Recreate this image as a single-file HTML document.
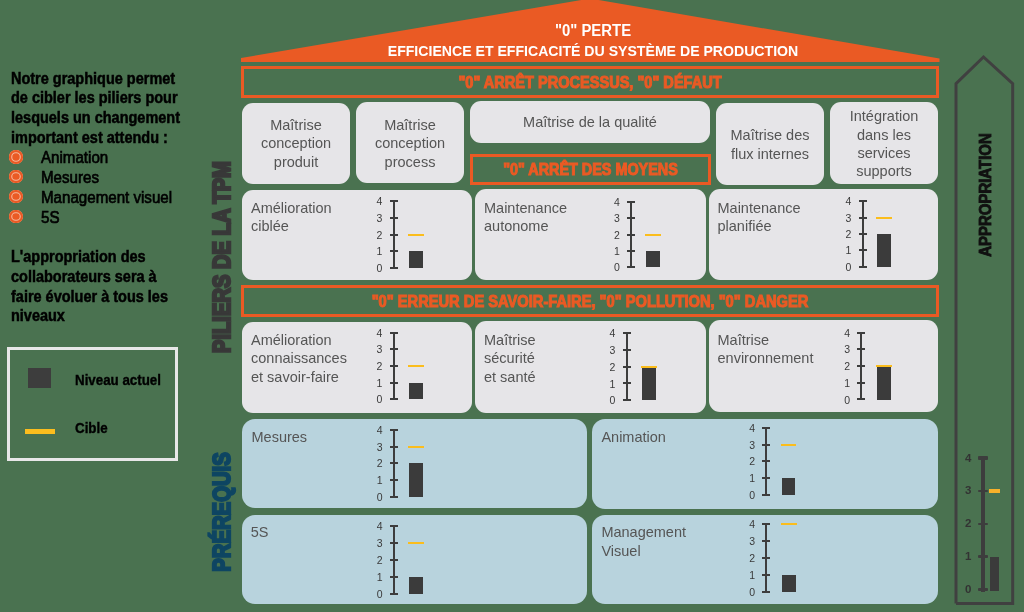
<!DOCTYPE html>
<html><head><meta charset="utf-8"><title>TPM</title><style>
#w{position:absolute;left:0;top:0;width:1024px;height:612px;will-change:transform}
*{margin:0;padding:0;box-sizing:content-box}
html,body{width:1024px;height:612px;overflow:hidden;background:#4a7250}
body{position:relative;font-family:"Liberation Sans",sans-serif}
.abs,.bx,.band,.bt,.tl,.r,.num,.num2,.roof,.vt,.lt,.lt2,.lt3,.bul{position:absolute}
.band{border:3px solid #ea5a24}
.bt{text-align:center;color:#ea5a24;font-weight:bold;line-height:20px;white-space:nowrap;-webkit-text-stroke:1.1px #ea5a24}
.tl{white-space:nowrap;line-height:1}
.num{width:25px;text-align:center;font-size:10.5px;line-height:14px;color:#3a3a3a}
.num2{width:12px;text-align:center;font-size:11.5px;line-height:15px;color:#333;font-weight:bold}
.roof{left:290px;width:606px;text-align:center;color:#fff;font-weight:bold;font-size:14.2px;line-height:1;white-space:nowrap}
.roof1{font-size:14.8px}
.vt{text-align:center;font-weight:bold;line-height:1;white-space:nowrap}
.lt{font-size:16px;font-weight:bold;color:#000;line-height:1;white-space:nowrap;-webkit-text-stroke:0.5px #000;transform:scaleX(0.905);transform-origin:0 0}
.lt2{font-size:16px;color:#000;line-height:1;white-space:nowrap;-webkit-text-stroke:0.65px #000;transform:scaleX(0.945);transform-origin:0 0}
.lt3{font-size:15.5px;font-weight:bold;color:#000;line-height:1;white-space:nowrap;-webkit-text-stroke:0.4px #000;transform:scaleX(0.86);transform-origin:0 0}
.bul{width:13.6px;height:13.6px;border-radius:50%;background:#ea5a24;box-shadow:inset 0 0 0 2.2px #ea5a24,inset 0 0 0 3.3px #f5b69b}
</style></head>
<body><div id="w">
<svg class="abs" width="1024" height="612" style="left:0;top:0"><polygon points="241,62 241,58 590,-1.5 939.5,58.6 939.5,62" fill="#ea5a24"/><polyline points="956,603.4 956,83.7 983.5,57 1012.7,83.7 1012.7,603.4 956,603.4" fill="none" stroke="#404040" stroke-width="3" stroke-linejoin="miter"/></svg>
<div class="roof" style="top:22.7px;font-size:16px;transform:scaleX(0.93)">"0" PERTE</div>
<div class="roof" style="top:43.1px;font-size:15px;transform:scaleX(0.94)">EFFICIENCE ET EFFICACITÉ DU SYSTÈME DE PRODUCTION</div>
<div class="band" style="left:241px;top:66px;width:692px;height:26px"></div>
<div class="bt" style="left:241px;width:698px;top:72.15px;font-size:16.5px;transform:scaleX(0.882)">"0" ARRÊT PROCESSUS, "0" DÉFAUT</div>
<div class="band" style="left:470px;top:154px;width:235px;height:25px"></div>
<div class="bt" style="left:470px;width:241px;top:158.65px;font-size:16.5px;transform:scaleX(0.872)">"0" ARRÊT DES MOYENS</div>
<div class="band" style="left:241px;top:285px;width:692px;height:26px"></div>
<div class="bt" style="left:241px;width:698px;top:291.45px;font-size:16.5px;transform:scaleX(0.889)">"0" ERREUR DE SAVOIR-FAIRE, "0" POLLUTION, "0" DANGER</div>
<div class="bx" style="left:242px;top:103px;width:108px;height:81px;background:#e6e5e8;border-radius:11px"></div>
<div class="tl" style="left:146px;width:300px;text-align:center;top:118.2px;font-size:14.5px;color:#555555;font-weight:normal">Maîtrise</div>
<div class="tl" style="left:146px;width:300px;text-align:center;top:136.4px;font-size:14.5px;color:#555555;font-weight:normal">conception</div>
<div class="tl" style="left:146px;width:300px;text-align:center;top:154.6px;font-size:14.5px;color:#555555;font-weight:normal">produit</div>
<div class="bx" style="left:356px;top:102px;width:108px;height:81px;background:#e6e5e8;border-radius:11px"></div>
<div class="tl" style="left:260px;width:300px;text-align:center;top:118.2px;font-size:14.5px;color:#555555;font-weight:normal">Maîtrise</div>
<div class="tl" style="left:260px;width:300px;text-align:center;top:136.4px;font-size:14.5px;color:#555555;font-weight:normal">conception</div>
<div class="tl" style="left:260px;width:300px;text-align:center;top:154.6px;font-size:14.5px;color:#555555;font-weight:normal">process</div>
<div class="bx" style="left:470px;top:101px;width:240px;height:42px;background:#e6e5e8;border-radius:11px"></div>
<div class="tl" style="left:440px;width:300px;text-align:center;top:114.9px;font-size:14.5px;color:#555555;font-weight:normal">Maîtrise de la qualité</div>
<div class="bx" style="left:716px;top:103px;width:108px;height:82px;background:#e6e5e8;border-radius:11px"></div>
<div class="tl" style="left:620px;width:300px;text-align:center;top:128.4px;font-size:14.5px;color:#555555;font-weight:normal">Maîtrise des</div>
<div class="tl" style="left:620px;width:300px;text-align:center;top:146.6px;font-size:14.5px;color:#555555;font-weight:normal">flux internes</div>
<div class="bx" style="left:830px;top:102px;width:108px;height:82px;background:#e6e5e8;border-radius:11px"></div>
<div class="tl" style="left:734px;width:300px;text-align:center;top:109.2px;font-size:14.5px;color:#555555;font-weight:normal">Intégration</div>
<div class="tl" style="left:734px;width:300px;text-align:center;top:127.5px;font-size:14.5px;color:#555555;font-weight:normal">dans les</div>
<div class="tl" style="left:734px;width:300px;text-align:center;top:145.8px;font-size:14.5px;color:#555555;font-weight:normal">services</div>
<div class="tl" style="left:734px;width:300px;text-align:center;top:164.1px;font-size:14.5px;color:#555555;font-weight:normal">supports</div>
<div class="bx" style="left:242px;top:190px;width:230px;height:90px;background:#e6e5e8;border-radius:11px"></div>
<div class="tl" style="left:251px;top:200.5px;font-size:14.5px;color:#555555;font-weight:normal">Amélioration</div>
<div class="tl" style="left:251px;top:218.8px;font-size:14.5px;color:#555555;font-weight:normal">ciblée</div>
<div class="r" style="left:393px;top:200px;width:2px;height:69px;background:#3d3d3d"></div>
<div class="r" style="left:390px;top:267px;width:8px;height:2px;background:#3d3d3d"></div>
<div class="num" style="left:367.00px;top:261.00px">0</div>
<div class="r" style="left:390px;top:250px;width:8px;height:2px;background:#3d3d3d"></div>
<div class="num" style="left:367.00px;top:244.25px">1</div>
<div class="r" style="left:390px;top:234px;width:8px;height:2px;background:#3d3d3d"></div>
<div class="num" style="left:367.00px;top:227.50px">2</div>
<div class="r" style="left:390px;top:217px;width:8px;height:2px;background:#3d3d3d"></div>
<div class="num" style="left:367.00px;top:210.75px">3</div>
<div class="r" style="left:390px;top:200px;width:8px;height:2px;background:#3d3d3d"></div>
<div class="num" style="left:367.00px;top:194.00px">4</div>
<div class="r" style="left:409px;top:251px;width:14px;height:17px;background:#3b3b3b"></div>
<div class="r" style="left:408px;top:234px;width:16px;height:2px;background:#fbbd1c"></div>
<div class="bx" style="left:475px;top:189px;width:230.5px;height:91px;background:#e6e5e8;border-radius:11px"></div>
<div class="tl" style="left:484px;top:200.5px;font-size:14.5px;color:#555555;font-weight:normal">Maintenance</div>
<div class="tl" style="left:484px;top:218.8px;font-size:14.5px;color:#555555;font-weight:normal">autonome</div>
<div class="r" style="left:630px;top:201px;width:2px;height:67px;background:#3d3d3d"></div>
<div class="r" style="left:627px;top:266px;width:8px;height:2px;background:#3d3d3d"></div>
<div class="num" style="left:604.50px;top:260.00px">0</div>
<div class="r" style="left:627px;top:250px;width:8px;height:2px;background:#3d3d3d"></div>
<div class="num" style="left:604.50px;top:243.75px">1</div>
<div class="r" style="left:627px;top:234px;width:8px;height:2px;background:#3d3d3d"></div>
<div class="num" style="left:604.50px;top:227.50px">2</div>
<div class="r" style="left:627px;top:217px;width:8px;height:2px;background:#3d3d3d"></div>
<div class="num" style="left:604.50px;top:211.25px">3</div>
<div class="r" style="left:627px;top:201px;width:8px;height:2px;background:#3d3d3d"></div>
<div class="num" style="left:604.50px;top:195.00px">4</div>
<div class="r" style="left:646px;top:251px;width:14px;height:16px;background:#3b3b3b"></div>
<div class="r" style="left:645px;top:234px;width:16px;height:2px;background:#fbbd1c"></div>
<div class="bx" style="left:708.5px;top:189px;width:229.5px;height:91px;background:#e6e5e8;border-radius:11px"></div>
<div class="tl" style="left:717.5px;top:200.5px;font-size:14.5px;color:#555555;font-weight:normal">Maintenance</div>
<div class="tl" style="left:717.5px;top:218.8px;font-size:14.5px;color:#555555;font-weight:normal">planifiée</div>
<div class="r" style="left:862px;top:200px;width:2px;height:68px;background:#3d3d3d"></div>
<div class="r" style="left:859px;top:266px;width:8px;height:2px;background:#3d3d3d"></div>
<div class="num" style="left:835.80px;top:259.70px">0</div>
<div class="r" style="left:859px;top:249px;width:8px;height:2px;background:#3d3d3d"></div>
<div class="num" style="left:835.80px;top:243.32px">1</div>
<div class="r" style="left:859px;top:233px;width:8px;height:2px;background:#3d3d3d"></div>
<div class="num" style="left:835.80px;top:226.95px">2</div>
<div class="r" style="left:859px;top:217px;width:8px;height:2px;background:#3d3d3d"></div>
<div class="num" style="left:835.80px;top:210.57px">3</div>
<div class="r" style="left:859px;top:200px;width:8px;height:2px;background:#3d3d3d"></div>
<div class="num" style="left:835.80px;top:194.20px">4</div>
<div class="r" style="left:877px;top:234px;width:14px;height:33px;background:#3b3b3b"></div>
<div class="r" style="left:876px;top:217px;width:16px;height:2px;background:#fbbd1c"></div>
<div class="bx" style="left:242px;top:321.5px;width:230px;height:91.0px;background:#e6e5e8;border-radius:11px"></div>
<div class="tl" style="left:251px;top:333.1px;font-size:14.5px;color:#555555;font-weight:normal">Amélioration</div>
<div class="tl" style="left:251px;top:351.4px;font-size:14.5px;color:#555555;font-weight:normal">connaissances</div>
<div class="tl" style="left:251px;top:369.7px;font-size:14.5px;color:#555555;font-weight:normal">et savoir-faire</div>
<div class="r" style="left:393px;top:332px;width:2px;height:68px;background:#3d3d3d"></div>
<div class="r" style="left:390px;top:398px;width:8px;height:2px;background:#3d3d3d"></div>
<div class="num" style="left:367.00px;top:392.20px">0</div>
<div class="r" style="left:390px;top:382px;width:8px;height:2px;background:#3d3d3d"></div>
<div class="num" style="left:367.00px;top:375.55px">1</div>
<div class="r" style="left:390px;top:365px;width:8px;height:2px;background:#3d3d3d"></div>
<div class="num" style="left:367.00px;top:358.90px">2</div>
<div class="r" style="left:390px;top:348px;width:8px;height:2px;background:#3d3d3d"></div>
<div class="num" style="left:367.00px;top:342.25px">3</div>
<div class="r" style="left:390px;top:332px;width:8px;height:2px;background:#3d3d3d"></div>
<div class="num" style="left:367.00px;top:325.60px">4</div>
<div class="r" style="left:409px;top:383px;width:14px;height:16px;background:#3b3b3b"></div>
<div class="r" style="left:408px;top:365px;width:16px;height:2px;background:#fbbd1c"></div>
<div class="bx" style="left:475px;top:321px;width:230.5px;height:91.5px;background:#e6e5e8;border-radius:11px"></div>
<div class="tl" style="left:484px;top:333.1px;font-size:14.5px;color:#555555;font-weight:normal">Maîtrise</div>
<div class="tl" style="left:484px;top:351.4px;font-size:14.5px;color:#555555;font-weight:normal">sécurité</div>
<div class="tl" style="left:484px;top:369.7px;font-size:14.5px;color:#555555;font-weight:normal">et santé</div>
<div class="r" style="left:626px;top:332px;width:2px;height:69px;background:#3d3d3d"></div>
<div class="r" style="left:623px;top:399px;width:8px;height:2px;background:#3d3d3d"></div>
<div class="num" style="left:599.90px;top:393.40px">0</div>
<div class="r" style="left:623px;top:382px;width:8px;height:2px;background:#3d3d3d"></div>
<div class="num" style="left:599.90px;top:376.50px">1</div>
<div class="r" style="left:623px;top:366px;width:8px;height:2px;background:#3d3d3d"></div>
<div class="num" style="left:599.90px;top:359.60px">2</div>
<div class="r" style="left:623px;top:349px;width:8px;height:2px;background:#3d3d3d"></div>
<div class="num" style="left:599.90px;top:342.70px">3</div>
<div class="r" style="left:623px;top:332px;width:8px;height:2px;background:#3d3d3d"></div>
<div class="num" style="left:599.90px;top:325.80px">4</div>
<div class="r" style="left:642px;top:367px;width:14px;height:33px;background:#3b3b3b"></div>
<div class="r" style="left:641px;top:366px;width:16px;height:2px;background:#fbbd1c"></div>
<div class="bx" style="left:708.5px;top:320px;width:229.5px;height:92px;background:#e6e5e8;border-radius:11px"></div>
<div class="tl" style="left:717.5px;top:332.6px;font-size:14.5px;color:#555555;font-weight:normal">Maîtrise</div>
<div class="tl" style="left:717.5px;top:350.9px;font-size:14.5px;color:#555555;font-weight:normal">environnement</div>
<div class="r" style="left:860px;top:332px;width:2px;height:68px;background:#3d3d3d"></div>
<div class="r" style="left:857px;top:398px;width:8px;height:2px;background:#3d3d3d"></div>
<div class="num" style="left:834.60px;top:392.50px">0</div>
<div class="r" style="left:857px;top:382px;width:8px;height:2px;background:#3d3d3d"></div>
<div class="num" style="left:834.60px;top:375.77px">1</div>
<div class="r" style="left:857px;top:365px;width:8px;height:2px;background:#3d3d3d"></div>
<div class="num" style="left:834.60px;top:359.05px">2</div>
<div class="r" style="left:857px;top:348px;width:8px;height:2px;background:#3d3d3d"></div>
<div class="num" style="left:834.60px;top:342.33px">3</div>
<div class="r" style="left:857px;top:332px;width:8px;height:2px;background:#3d3d3d"></div>
<div class="num" style="left:834.60px;top:325.60px">4</div>
<div class="r" style="left:877px;top:366px;width:14px;height:34px;background:#3b3b3b"></div>
<div class="r" style="left:876px;top:365px;width:16px;height:2px;background:#fbbd1c"></div>
<div class="bx" style="left:242px;top:419px;width:345px;height:89px;background:#b8d3dd;border-radius:13px"></div>
<div class="tl" style="left:251.5px;top:429.5px;font-size:14.5px;color:#555555;font-weight:normal">Mesures</div>
<div class="r" style="left:393px;top:429px;width:2px;height:69px;background:#3d3d3d"></div>
<div class="r" style="left:390px;top:496px;width:8px;height:2px;background:#3d3d3d"></div>
<div class="num" style="left:367.20px;top:489.90px">0</div>
<div class="r" style="left:390px;top:479px;width:8px;height:2px;background:#3d3d3d"></div>
<div class="num" style="left:367.20px;top:473.15px">1</div>
<div class="r" style="left:390px;top:462px;width:8px;height:2px;background:#3d3d3d"></div>
<div class="num" style="left:367.20px;top:456.40px">2</div>
<div class="r" style="left:390px;top:446px;width:8px;height:2px;background:#3d3d3d"></div>
<div class="num" style="left:367.20px;top:439.65px">3</div>
<div class="r" style="left:390px;top:429px;width:8px;height:2px;background:#3d3d3d"></div>
<div class="num" style="left:367.20px;top:422.90px">4</div>
<div class="r" style="left:409px;top:463px;width:14px;height:34px;background:#3b3b3b"></div>
<div class="r" style="left:408px;top:446px;width:16px;height:2px;background:#fbbd1c"></div>
<div class="bx" style="left:592px;top:419px;width:346px;height:90px;background:#b8d3dd;border-radius:13px"></div>
<div class="tl" style="left:601.4px;top:429.7px;font-size:14.5px;color:#555555;font-weight:normal">Animation</div>
<div class="r" style="left:765px;top:427px;width:2px;height:69px;background:#3d3d3d"></div>
<div class="r" style="left:762px;top:494px;width:8px;height:2px;background:#3d3d3d"></div>
<div class="num" style="left:739.60px;top:488.00px">0</div>
<div class="r" style="left:762px;top:477px;width:8px;height:2px;background:#3d3d3d"></div>
<div class="num" style="left:739.60px;top:471.23px">1</div>
<div class="r" style="left:762px;top:460px;width:8px;height:2px;background:#3d3d3d"></div>
<div class="num" style="left:739.60px;top:454.45px">2</div>
<div class="r" style="left:762px;top:444px;width:8px;height:2px;background:#3d3d3d"></div>
<div class="num" style="left:739.60px;top:437.67px">3</div>
<div class="r" style="left:762px;top:427px;width:8px;height:2px;background:#3d3d3d"></div>
<div class="num" style="left:739.60px;top:420.90px">4</div>
<div class="r" style="left:782px;top:478px;width:13px;height:17px;background:#3b3b3b"></div>
<div class="r" style="left:781px;top:444px;width:15px;height:2px;background:#fbbd1c"></div>
<div class="bx" style="left:242px;top:514.5px;width:345px;height:89.5px;background:#b8d3dd;border-radius:13px"></div>
<div class="tl" style="left:250.8px;top:525.4px;font-size:14.5px;color:#555555;font-weight:normal">5S</div>
<div class="r" style="left:393px;top:525px;width:2px;height:70px;background:#3d3d3d"></div>
<div class="r" style="left:390px;top:593px;width:8px;height:2px;background:#3d3d3d"></div>
<div class="num" style="left:367.20px;top:586.60px">0</div>
<div class="r" style="left:390px;top:576px;width:8px;height:2px;background:#3d3d3d"></div>
<div class="num" style="left:367.20px;top:569.73px">1</div>
<div class="r" style="left:390px;top:559px;width:8px;height:2px;background:#3d3d3d"></div>
<div class="num" style="left:367.20px;top:552.85px">2</div>
<div class="r" style="left:390px;top:542px;width:8px;height:2px;background:#3d3d3d"></div>
<div class="num" style="left:367.20px;top:535.98px">3</div>
<div class="r" style="left:390px;top:525px;width:8px;height:2px;background:#3d3d3d"></div>
<div class="num" style="left:367.20px;top:519.10px">4</div>
<div class="r" style="left:409px;top:577px;width:14px;height:17px;background:#3b3b3b"></div>
<div class="r" style="left:408px;top:542px;width:16px;height:2px;background:#fbbd1c"></div>
<div class="bx" style="left:592px;top:514.5px;width:346px;height:89.0px;background:#b8d3dd;border-radius:13px"></div>
<div class="tl" style="left:601.4px;top:525.4px;font-size:14.5px;color:#555555;font-weight:normal">Management</div>
<div class="tl" style="left:601.4px;top:543.7px;font-size:14.5px;color:#555555;font-weight:normal">Visuel</div>
<div class="r" style="left:765px;top:523px;width:2px;height:70px;background:#3d3d3d"></div>
<div class="r" style="left:762px;top:591px;width:8px;height:2px;background:#3d3d3d"></div>
<div class="num" style="left:739.60px;top:584.70px">0</div>
<div class="r" style="left:762px;top:574px;width:8px;height:2px;background:#3d3d3d"></div>
<div class="num" style="left:739.60px;top:567.83px">1</div>
<div class="r" style="left:762px;top:557px;width:8px;height:2px;background:#3d3d3d"></div>
<div class="num" style="left:739.60px;top:550.95px">2</div>
<div class="r" style="left:762px;top:540px;width:8px;height:2px;background:#3d3d3d"></div>
<div class="num" style="left:739.60px;top:534.08px">3</div>
<div class="r" style="left:762px;top:523px;width:8px;height:2px;background:#3d3d3d"></div>
<div class="num" style="left:739.60px;top:517.20px">4</div>
<div class="r" style="left:782px;top:575px;width:14px;height:17px;background:#3b3b3b"></div>
<div class="r" style="left:781px;top:523px;width:16px;height:2px;background:#fbbd1c"></div>
<div class="vt" style="left:123px;top:255.5px;width:200px;height:26px;font-size:24px;color:#383838;-webkit-text-stroke:2.5px #383838;transform:rotate(-90deg) scaleX(0.84)">PILIERS DE LA TPM</div>
<div class="vt" style="left:123px;top:499px;width:200px;height:26px;font-size:24px;color:#0e4562;-webkit-text-stroke:2.3px #0e4562;transform:rotate(-90deg) scaleX(0.845)">PRÉREQUIS</div>
<div class="vt" style="left:887px;top:184.5px;width:200px;height:20px;font-size:17px;color:#111;-webkit-text-stroke:0.9px #111;transform:rotate(-90deg) scaleX(0.88)">APPROPRIATION</div>
<div class="r" style="left:980.8000000000001px;top:456px;width:3.8px;height:135.60000000000002px;background:#3d3d3d"></div>
<div class="r" style="left:977.7px;top:587.8px;width:10px;height:3.6px;border-radius:1px;background:#3d3d3d"></div>
<div class="num2" style="left:962.2px;top:582.1px">0</div>
<div class="r" style="left:977.7px;top:555.4px;width:10px;height:2.6px;border-radius:1px;background:#3d3d3d"></div>
<div class="num2" style="left:962.2px;top:549.2px">1</div>
<div class="r" style="left:977.7px;top:522.5px;width:10px;height:2.6px;border-radius:1px;background:#3d3d3d"></div>
<div class="num2" style="left:962.2px;top:516.3px">2</div>
<div class="r" style="left:977.7px;top:489.6px;width:10px;height:2.6px;border-radius:1px;background:#3d3d3d"></div>
<div class="num2" style="left:962.2px;top:483.4px">3</div>
<div class="r" style="left:977.7px;top:456.2px;width:10px;height:3.6px;border-radius:1px;background:#3d3d3d"></div>
<div class="num2" style="left:962.2px;top:450.5px">4</div>
<div class="r" style="left:990.3px;top:557px;width:9px;height:34px;background:#3b3b3b"></div>
<div class="r" style="left:989px;top:489.3px;width:11px;height:3.6px;background:#f7b02a"></div>
<div class="lt" style="left:11px;top:70.7px">Notre graphique permet</div>
<div class="lt" style="left:11px;top:90.3px">de cibler les piliers pour</div>
<div class="lt" style="left:11px;top:110.0px">lesquels un changement</div>
<div class="lt" style="left:11px;top:129.6px">important est attendu :</div>
<div class="bul" style="left:9.0px;top:150.0px"></div>
<div class="lt2" style="left:41px;top:150.2px">Animation</div>
<div class="bul" style="left:9.0px;top:169.9px"></div>
<div class="lt2" style="left:41px;top:170.1px">Mesures</div>
<div class="bul" style="left:9.0px;top:189.8px"></div>
<div class="lt2" style="left:41px;top:190.0px">Management visuel</div>
<div class="bul" style="left:9.0px;top:209.7px"></div>
<div class="lt2" style="left:41px;top:209.9px">5S</div>
<div class="lt" style="left:11px;top:249.1px">L&#39;appropriation des</div>
<div class="lt" style="left:11px;top:268.9px">collaborateurs sera à</div>
<div class="lt" style="left:11px;top:288.7px">faire évoluer à tous les</div>
<div class="lt" style="left:11px;top:308.4px">niveaux</div>
<div class="abs" style="left:7px;top:347px;width:165px;height:108px;border:3px solid #e8e7e8"></div>
<div class="r" style="left:28px;top:368px;width:23px;height:20px;background:#3d3d3d"></div>
<div class="lt3" style="left:75px;top:371.8px">Niveau actuel</div>
<div class="r" style="left:25px;top:428.5px;width:30px;height:5px;background:#fbbd1e"></div>
<div class="lt3" style="left:75px;top:419.6px">Cible</div>
</div></body></html>
